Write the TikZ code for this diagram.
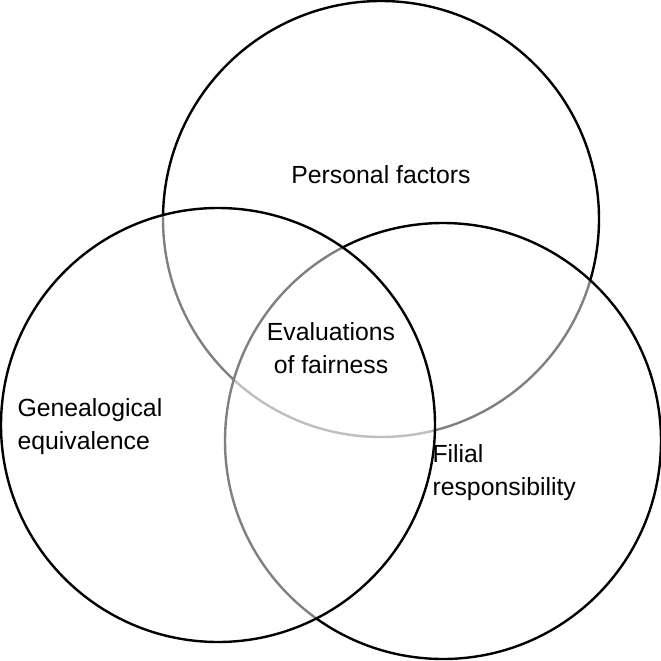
\documentclass[tikz,border=0pt]{standalone}
\usepackage{fontspec}
\setmainfont{Liberation Sans}
\begin{document}
\begin{tikzpicture}[x=1pt,y=-1pt,
  ring/.style={line width=2.4pt,fill=white,fill opacity=0.5,draw opacity=1},
  lbl/.style={font=\fontsize{24.8}{33}\selectfont,align=center}]
\useasboundingbox (0,0) rectangle (661,661);
\draw[ring] (381,219) circle (218);
\draw[ring] (443,441) circle (218);
\draw[ring] (218,425) circle (217);
\node[lbl] (p) at (381,175) {Personal factors};
\node[lbl] (e) at (331,348) {Evaluations\\of fairness};
\node[lbl,align=left,anchor=west] (g) at (14,427) {Genealogical\\equivalence};
\node[lbl,align=left,anchor=west] (f) at (429,473) {Filial\\responsibility};
\end{tikzpicture}
\end{document}
